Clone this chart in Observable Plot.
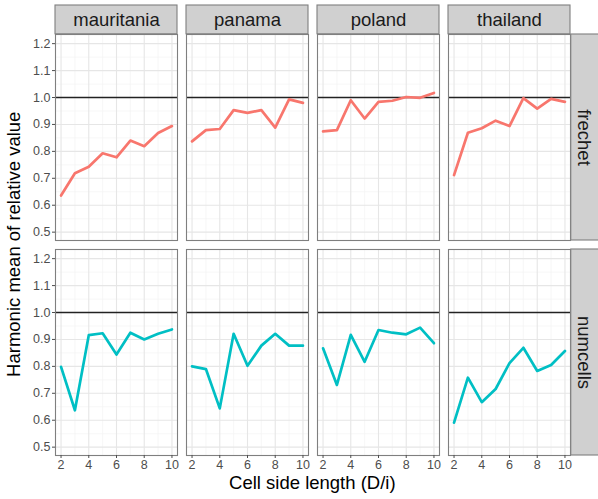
<!DOCTYPE html>
<html><head><meta charset="utf-8">
<script src="https://cdn.jsdelivr.net/npm/d3@7"></script>
<script src="https://cdn.jsdelivr.net/npm/@observablehq/plot@0.6"></script>
<style>body{margin:0;background:#fff}</style>
</head><body><div id="chart"></div>
<script>
const countries = ["mauritania", "panama", "poland", "thailand"];
const metrics = ["frechet", "numcells"];
const cellSide = [2, 3, 4, 5, 6, 7, 8, 9, 10];
const frechet_mauritania = [0.636, 0.719, 0.743, 0.793, 0.778, 0.840, 0.819, 0.868, 0.894];
const frechet_panama     = [0.837, 0.879, 0.883, 0.953, 0.943, 0.953, 0.888, 0.993, 0.980];
const frechet_poland     = [0.874, 0.879, 0.990, 0.922, 0.984, 0.988, 1.002, 0.999, 1.017];
const frechet_thailand   = [0.712, 0.869, 0.886, 0.914, 0.894, 0.998, 0.959, 0.995, 0.984];
const numcells_mauritania = [0.798, 0.637, 0.916, 0.923, 0.844, 0.925, 0.900, 0.921, 0.937];
const numcells_panama     = [0.800, 0.790, 0.644, 0.921, 0.802, 0.877, 0.921, 0.877, 0.877];
const numcells_poland     = [0.867, 0.731, 0.917, 0.817, 0.935, 0.925, 0.919, 0.944, 0.886];
const numcells_thailand   = [0.591, 0.758, 0.667, 0.716, 0.812, 0.869, 0.783, 0.805, 0.857];
const xTicks = [2, 4, 6, 8, 10];
const xMinor = [3, 5, 7, 9];
const yTicks = [0.5, 0.6, 0.7, 0.8, 0.9, 1.0, 1.1, 1.2];
const yMinor = [0.55, 0.65, 0.75, 0.85, 0.95, 1.05, 1.15];
const refLine = [1];
const xDomain = [1.6, 10.4];
const yDomain = [0.469, 1.234];
const colors = ["#F8766D", "#00BFC4"];
const xTitle = "Cell side length (D/i)";
const yTitle = "Harmonic mean of relative value";

const series = {
  frechet: {mauritania: frechet_mauritania, panama: frechet_panama, poland: frechet_poland, thailand: frechet_thailand},
  numcells: {mauritania: numcells_mauritania, panama: numcells_panama, poland: numcells_poland, thailand: numcells_thailand}
};
const rows = [];
for (const m of metrics) for (const c of countries)
  series[m][c].forEach((v, i) => rows.push({metric: m, country: c, side: cellSide[i], value: v}));
const topStrips = countries.map(c => ({country: c, metric: metrics[0]}));
const rightStrips = metrics.map(m => ({country: countries[countries.length - 1], metric: m}));

const W = 598, H = 499, mL = 54, mR = 27.3, mT = 33.5, mB = 44;
const pX = 0.065, pY = 0.042;
const panelW = (W - mL - mR) / (countries.length - pX) * (1 - pX);
const panelH = (H - mT - mB) / (metrics.length - pY) * (1 - pY);
const stripH = 29;
const font = "'Liberation Sans', Arial, Helvetica, sans-serif";

const chart = Plot.plot({
  width: W, height: H,
  marginLeft: mL, marginRight: mR, marginTop: mT, marginBottom: mB,
  style: {fontFamily: font, background: "white", overflow: "visible"},
  fx: {domain: countries, axis: null, paddingInner: pX, paddingOuter: 0},
  fy: {domain: metrics, axis: null, paddingInner: pY, paddingOuter: 0},
  x: {domain: xDomain},
  y: {domain: yDomain},
  color: {domain: metrics, range: colors},
  marks: [
    Plot.gridY(yMinor, {stroke: "#f3f3f3", strokeOpacity: 1, strokeWidth: 0.7}),
    Plot.gridX(xMinor, {stroke: "#f3f3f3", strokeOpacity: 1, strokeWidth: 0.7}),
    Plot.gridY(yTicks, {stroke: "#e6e6e6", strokeOpacity: 1, strokeWidth: 1.1}),
    Plot.gridX(xTicks, {stroke: "#e6e6e6", strokeOpacity: 1, strokeWidth: 1.1}),
    Plot.ruleY(refLine, {stroke: "#222", strokeWidth: 1.5}),
    Plot.line(rows, {fx: "country", fy: "metric", x: "side", y: "value", stroke: "metric", strokeWidth: 2.7}),
    Plot.frame({stroke: "#7f7f7f", strokeWidth: 1.1}),
    Plot.rect(topStrips, {fx: "country", fy: "metric", fill: "#d0d0d0", stroke: "#7f7f7f", strokeWidth: 1.1, insetTop: -stripH, insetBottom: panelH}),
    Plot.rect(rightStrips, {fx: "country", fy: "metric", fill: "#d0d0d0", stroke: "#7f7f7f", strokeWidth: 1.1, insetLeft: panelW, insetRight: -mR - 2}),
    Plot.text(topStrips, {fx: "country", fy: "metric", text: "country", frameAnchor: "top", lineAnchor: "middle", textAnchor: "middle", dy: -stripH / 2, fontSize: 18.5, fill: "#1a1a1a"}),
    Plot.text(rightStrips, {fx: "country", fy: "metric", text: "metric", frameAnchor: "right", lineAnchor: "middle", textAnchor: "middle", dx: mR / 2, rotate: 90, fontSize: 18.5, fill: "#1a1a1a"}),
    Plot.axisY(yTicks, {tickSize: 3, tickPadding: 2, fontSize: 12.5, color: "#4d4d4d", tickFormat: d3.format(".1f"), label: null}),
    Plot.axisX(xTicks, {tickSize: 3, tickPadding: 2, fontSize: 12.5, color: "#4d4d4d", label: null})
  ]
});
document.getElementById("chart").appendChild(chart);

const svg = d3.select(chart.tagName.toLowerCase() === "svg" ? chart : chart.querySelector("svg"));
svg.append("text")
  .attr("x", mL + (W - mL - mR) / 2).attr("y", 489)
  .attr("text-anchor", "middle")
  .style("font-family", font).style("font-size", "18.5px").attr("fill", "#000")
  .text(xTitle);
svg.append("text")
  .attr("transform", `translate(${20},${mT + (H - mT - mB) / 2}) rotate(-90)`)
  .attr("text-anchor", "middle")
  .style("font-family", font).style("font-size", "18.5px").attr("fill", "#000")
  .text(yTitle);
</script>
</body></html>
